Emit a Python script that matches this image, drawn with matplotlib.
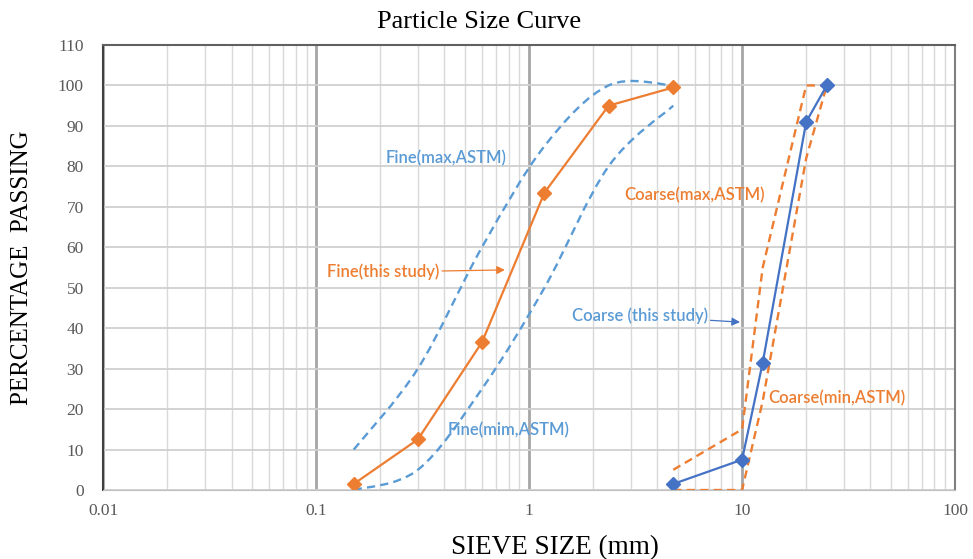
import numpy as np
import matplotlib.pyplot as plt
from matplotlib.path import Path
from matplotlib.patches import PathPatch
from matplotlib.ticker import FixedLocator, FuncFormatter, LogLocator, NullFormatter

# sieve sizes (mm)
fine_sizes = [0.15, 0.3, 0.6, 1.18, 2.36, 4.75]
coarse_sizes = [4.75, 10, 12.5, 20, 25]

# percentage passing
fine_study = [1.5, 12.5, 36.5, 73.5, 95, 99.5]
fine_max = [10, 30, 60, 85, 100, 100]
fine_min = [0, 5, 25, 50, 80, 95]
coarse_study = [1.5, 7.5, 31.5, 91, 100]
coarse_max = [5, 15, 55, 100, 100]
coarse_min = [0, 0, 22, 82, 100]

ORANGE = "#ED7D31"
LBLUE = "#5B9BD5"
DBLUE = "#4472C4"


def smooth_path(xs, ys):
    # Excel-like smoothed line: cubic bezier through the points, built in log-x space
    lx = np.log10(xs)
    y = np.asarray(ys, dtype=float)
    n = len(lx)
    verts = [(xs[0], y[0])]
    codes = [Path.MOVETO]
    for i in range(n - 1):
        i0 = max(i - 1, 0)
        i3 = min(i + 2, n - 1)
        c1 = (lx[i] + (lx[i + 1] - lx[i0]) / 6, y[i] + (y[i + 1] - y[i0]) / 6)
        c2 = (lx[i + 1] - (lx[i3] - lx[i]) / 6, y[i + 1] - (y[i3] - y[i]) / 6)
        verts += [(10 ** c1[0], c1[1]), (10 ** c2[0], c2[1]), (xs[i + 1], y[i + 1])]
        codes += [Path.CURVE4] * 3
    return Path(verts, codes)


fig = plt.figure(figsize=(9.73, 5.59), dpi=100)
ax = fig.add_axes([0.1062, 0.1234, 0.8753, 0.7961])

ax.set_xscale("log")
ax.set_xlim(0.01, 100)
ax.set_ylim(0, 110)

ax.xaxis.set_major_locator(FixedLocator([0.01, 0.1, 1, 10, 100]))
ax.xaxis.set_major_formatter(FuncFormatter(lambda v, p: f"{v:g}"))
ax.xaxis.set_minor_locator(LogLocator(base=10, subs=np.arange(2, 10)))
ax.xaxis.set_minor_formatter(NullFormatter())
ax.set_yticks(np.arange(0, 111, 10))

ax.grid(True, which="minor", axis="x", color="#D9D9D9", lw=1.0)
ax.grid(True, which="major", axis="x", color="#A6A6A6", lw=2.0)
ax.grid(True, which="major", axis="y", color="#D0D0D0", lw=1.3)
ax.set_axisbelow(True)
ax.tick_params(which="both", length=0, labelsize=12.5, labelcolor="#595959")
ax.tick_params(axis="y", pad=14)
ax.tick_params(axis="x", pad=9)
for lab in ax.get_xticklabels() + ax.get_yticklabels():
    lab.set_fontfamily("Liberation Serif")

ax.spines["left"].set_color("#404040")
ax.spines["left"].set_linewidth(1.5)
ax.spines["top"].set_color("#606060")
ax.spines["top"].set_linewidth(1.5)
ax.spines["bottom"].set_color("#BFBFBF")
ax.spines["right"].set_color("#7F7F7F")
ax.spines["right"].set_linewidth(1.5)

dash = (3.5, 2.2)
for vals in (fine_max, fine_min):
    ax.add_patch(PathPatch(smooth_path(fine_sizes, vals), fill=False,
                           edgecolor=LBLUE, lw=1.7, linestyle=(0, dash)))
ax.plot(coarse_sizes, coarse_max, color=ORANGE, lw=1.7, dashes=dash)
ax.plot(coarse_sizes, coarse_min, color=ORANGE, lw=1.7, dashes=dash)

ax.plot(fine_sizes, fine_study, color=ORANGE, lw=1.6, marker="D", ms=7,
        markeredgecolor=ORANGE)
ax.plot(coarse_sizes, coarse_study, color=DBLUE, lw=1.6, marker="D", ms=7,
        markeredgecolor=DBLUE)

lab_font = dict(family="Lato", fontsize=12, weight="semibold", va="center", ha="left")
ax.text(0.2128, 82.1, "Fine(max,ASTM)", color=LBLUE, **lab_font)
ax.text(2.786, 72.9, "Coarse(max,ASTM)", color=ORANGE, **lab_font)
ax.text(0.416, 14.8, "Fine(mim,ASTM)", color=LBLUE, **lab_font)
ax.text(13.24, 22.7, "Coarse(min,ASTM)", color=ORANGE, **lab_font)
ax.annotate("Fine(this study)", xy=(0.769, 54.4), xytext=(0.1124, 53.9),
            color=ORANGE, **lab_font,
            arrowprops=dict(arrowstyle="-|>", color=ORANGE, lw=0.9,
                            shrinkA=0, shrinkB=0, mutation_scale=12))
ax.annotate("Coarse (this study)", xy=(9.78, 41.5), xytext=(1.585, 43.0),
            color=LBLUE, **lab_font,
            arrowprops=dict(arrowstyle="-|>", color=DBLUE, lw=0.9,
                            shrinkA=0, shrinkB=0, mutation_scale=12))

ax.set_title("Particle Size Curve", fontfamily="Liberation Serif", fontsize=19,
             pad=12, x=0.441)
ax.set_xlabel("SIEVE SIZE (mm)", fontfamily="Liberation Serif", fontsize=19.5,
              labelpad=12, x=0.53)
ax.set_ylabel("PERCENTAGE  PASSING", fontfamily="Liberation Serif", fontsize=18,
              labelpad=18)

fig.savefig("out.png", dpi=100)
